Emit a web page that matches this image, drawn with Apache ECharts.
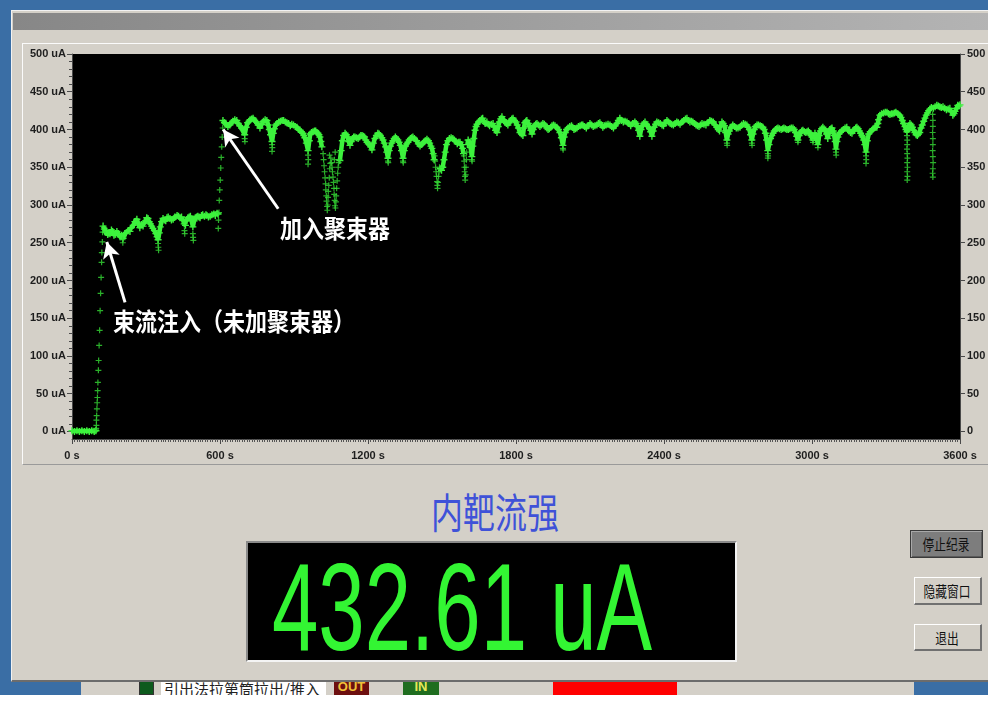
<!DOCTYPE html>
<html>
<head>
<meta charset="utf-8">
<script src="https://cdn.jsdelivr.net/npm/echarts@6/dist/echarts.min.js"></script>
<style>
  html, body { margin: 0; padding: 0; width: 988px; height: 707px; overflow: hidden; background: #fff; }
  #desk { position: absolute; left: 0; top: 0; width: 988px; height: 695px; background: #3a6ea5; }
  #under { position: absolute; left: 81px; top: 681px; width: 833px; height: 14px; background: #d4d0c8; overflow: hidden; }
  #under div { position: absolute; top: 0; height: 14px; box-sizing: border-box; overflow: hidden; }
  #win { position: absolute; left: 11px; top: 10px; width: 990px; height: 672px; background: #d4d0c8;
         border-top: 1px solid #f2f2f2; border-left: 1px solid #f2f2f2; border-bottom: 2px solid #6c6c6c; box-sizing: border-box; }
  #titlebar { position: absolute; left: 13px; top: 13px; width: 980px; height: 17px;
              background: linear-gradient(to right, #878787, #a2a2a2 60%, #b4b4b4); }
  #frame { position: absolute; left: 22px; top: 43px; width: 975px; height: 422px; box-sizing: border-box;
           border-top: 1px solid #fbfbfb; border-left: 1px solid #fbfbfb; border-bottom: 1px solid #9a9a9a; }
  #chart { position: absolute; left: 22px; top: 43px; width: 966px; height: 422px; }
  #heading { position: absolute; left: 345px; top: 490px; width: 300px; text-align: center;
             font: 41px/41px "Noto Sans CJK SC", sans-serif; color: #3f52d8; }
  #heading span { display: inline-block; transform: scaleX(0.78); }
  #readout { position: absolute; left: 246px; top: 541px; width: 491px; height: 121px; box-sizing: border-box;
             background: #000; border: 2px solid; border-color: #8a8a8a #f4f4f4 #f4f4f4 #8a8a8a; }
  #readoutText { position: absolute; left: 24px; top: 1px; white-space: nowrap; color: #33f533;
                 font: 125px/125px "Liberation Sans", Arial, sans-serif; transform: scaleX(0.667); transform-origin: 0 0; }
  .btn { position: absolute; box-sizing: border-box; text-align: center; color: #111;
         font: 15px "Noto Sans CJK SC", sans-serif; }
  .btn span { display: inline-block; transform: scaleX(0.78); }
  #btnStop { left: 910px; top: 530px; width: 73px; height: 28px; line-height: 25px; background: #7d7d7d;
             border: 1px solid #3a3a3a; box-shadow: inset 1px 1px 0 #a8a8a8, inset -1px -1px 0 #5a5a5a; }
  #btnHide, #btnQuit { left: 914px; width: 68px; height: 28px; line-height: 25px; background: #d4d0c8;
             border-top: 1px solid #fff; border-left: 1px solid #fff; border-right: 2px solid #707070; border-bottom: 2px solid #707070; }
  #btnHide { top: 577px; }
  #btnQuit { top: 624px; height: 27px; }
</style>
</head>
<body>
<div id="desk"></div>
<div id="under">
  <div style="left:58px;width:15px;background:#0d5a1d;border:1px solid #333;"></div>
  <div style="left:80px;width:165px;background:#fff;font:15px/15px 'Noto Sans CJK SC',sans-serif;color:#222;padding-left:3px;">引出法拉第筒拉出/推入</div>
  <div style="left:253px;width:35px;background:#6d0f0f;color:#f0c23a;font:bold 13px/12px 'Liberation Sans',sans-serif;text-align:center;">OUT</div>
  <div style="left:322px;width:36px;background:#1f6d1f;color:#e6e65a;font:bold 13px/12px 'Liberation Sans',sans-serif;text-align:center;">IN</div>
  <div style="left:472px;width:124px;background:#ff0000;"></div>
</div>
<div id="win"></div>
<div id="titlebar"></div>
<div id="frame"></div>
<div id="chart"></div>
<div id="heading"><span>内靶流强</span></div>
<div id="readout"><div id="readoutText"></div></div>
<div class="btn" id="btnStop"><span>停止纪录</span></div>
<div class="btn" id="btnHide"><span>隐藏窗口</span></div>
<div class="btn" id="btnQuit"><span>退出</span></div>

<script>
// Beam current log, [time in s, beam in uA]

const currentBeam = 432.61;

const yTickValues = [0, 50, 100, 150, 200, 250, 300, 350, 400, 450, 500];

// before injection
const beforeInjection = [[0,1],[10,0],[20,1],[30,0],[40,1],[50,0],[60,1],[70,0],[80,1],[90,0],[97,1]];

// injection, no buncher
const unbunchedRun = [[126,272],[131,268],[135,264],[140,266],[145,261],[150,263],[154,262],[160,267],[165,265],[170,260],[175,261],[182,265],[188,262],[195,258],[201,260],[207,256],[214,262],[220,263],[227,266],[235,265],[241,270],[248,273],[255,278],[263,281],[269,275],[275,270],[281,274],[288,272],[293,276],[298,279],[303,283],[308,282],[313,278],[318,275],[323,272],[328,269],[334,266],[340,262],[345,258],[349,254],[354,263],[358,271],[363,278],[369,282],[374,280],[380,279],[385,283],[390,284],[397,282],[403,280],[410,281],[417,284],[426,286],[432,285],[438,283],[444,284],[450,280],[455,275],[460,273],[465,280],[470,283],[475,284],[480,285],[485,279],[490,271],[495,279],[500,283],[505,284],[510,285],[515,284],[519,283],[525,286],[530,287],[537,285],[543,287],[547,286],[553,284],[560,285],[567,287],[575,288],[581,286],[588,289],[592,288]];

// buncher on
const bunchedRunA = [[612,412],[618,409],[625,407],[632,404],[640,406],[646,409],[652,411],[660,413],[668,412],[674,408],[680,405],[687,402],[693,400],[700,393],[706,403],[712,409],[718,411],[722,413],[728,414],[734,415],[741,412],[748,410],[755,406],[762,402],[769,407],[776,411],[783,413],[790,412],[795,406],[800,400],[805,393],[811,384],[816,395],[820,401],[826,406],[831,408],[838,410],[845,411],[852,412],[858,412],[865,410],[871,409],[878,408],[885,405],[891,407],[898,406],[905,404],[912,403],[918,400],[924,399],[930,397],[936,395],[940,392],[944,389],[950,382],[957,372],[962,385],[966,394],[971,396],[977,397],[983,398],[988,398],[993,396],[997,395],[1001,393],[1005,390],[1009,384],[1013,377]];

const bunchedRunB = [[1086,359],[1091,372],[1096,385],[1101,392],[1107,395],[1112,393],[1117,390],[1122,384],[1127,379],[1132,384],[1137,388],[1142,390],[1147,390],[1153,389],[1160,388],[1166,390],[1171,392],[1176,392],[1181,391],[1186,390],[1191,386],[1196,383],[1201,381],[1206,380],[1211,377],[1216,373],[1222,382],[1228,388],[1234,392],[1240,395],[1245,394],[1250,392],[1256,389],[1261,386],[1266,382],[1271,377],[1276,370],[1281,362],[1286,372],[1291,378],[1296,382],[1301,385],[1306,388],[1311,390],[1316,388],[1321,386],[1326,383],[1331,379],[1336,372],[1342,362],[1347,372],[1352,378],[1357,381],[1362,383],[1367,386],[1372,388],[1377,389],[1382,390],[1388,388],[1397,385],[1404,381],[1411,378],[1418,380],[1425,383],[1432,385],[1439,387],[1445,385],[1450,382],[1455,378],[1459,375],[1464,368],[1468,360]];

const bunchedRunC = [[1493,348],[1498,346],[1503,350],[1508,360],[1513,370],[1518,380],[1524,385],[1530,388],[1537,389],[1544,388],[1550,386],[1556,384],[1562,381],[1568,383],[1573,383],[1578,380],[1583,375],[1587,368]];

const bunchedRunD = [[1603,380],[1606,386],[1611,383],[1616,376],[1621,364],[1625,378],[1629,388],[1634,399],[1638,404],[1642,407],[1648,410],[1654,412],[1660,414],[1665,415],[1670,411],[1675,408],[1682,410],[1688,407],[1693,405],[1700,407],[1707,408],[1712,404],[1717,399],[1723,396],[1728,404],[1733,410],[1738,414],[1743,417],[1749,413],[1755,410],[1761,408],[1767,406],[1772,409],[1778,412],[1783,414],[1788,415],[1794,412],[1800,410],[1805,406],[1810,402],[1816,396],[1822,394],[1828,392],[1832,402],[1836,409],[1840,411],[1844,412],[1850,408],[1855,404],[1860,399],[1865,394],[1870,400],[1875,405],[1880,407],[1885,408],[1891,406],[1897,404],[1903,406],[1909,408],[1915,407],[1920,405],[1925,402],[1930,400],[1935,401],[1941,403],[1946,405],[1952,406],[1958,405],[1966,403],[1972,400],[1978,396],[1984,389],[1990,379],[1995,390],[2000,396],[2005,400],[2011,402],[2018,404],[2025,405],[2030,403],[2035,400],[2041,401],[2047,402],[2053,404],[2060,405],[2066,406],[2071,406],[2078,404],[2085,402],[2092,405],[2100,408],[2106,406],[2113,404],[2120,405],[2128,406],[2134,408],[2140,409],[2146,406],[2152,403],[2158,405],[2165,406],[2173,407],[2181,406],[2188,404],[2195,402],[2202,405],[2209,408],[2215,412],[2221,415],[2228,412],[2235,410],[2242,411],[2250,410],[2257,408],[2265,405],[2273,408],[2282,410],[2287,408],[2292,404],[2297,399],[2302,391],[2307,400],[2312,405],[2318,408],[2323,410],[2329,407],[2335,404],[2341,401],[2346,397],[2351,391],[2356,398],[2360,403],[2366,407],[2371,410],[2378,409],[2385,408],[2392,406],[2398,405],[2405,409],[2412,412],[2418,410],[2425,408],[2431,407],[2438,406],[2445,408],[2452,410],[2458,409],[2465,407],[2472,410],[2480,412],[2487,414],[2493,415],[2499,412],[2505,410],[2511,411],[2517,410],[2524,408],[2530,406],[2536,405],[2542,404],[2548,406],[2554,408],[2562,407],[2570,406],[2578,409],[2586,412],[2593,411],[2600,410],[2607,406],[2614,403],[2620,400],[2625,398],[2630,405],[2635,410],[2640,408],[2645,405],[2650,396],[2655,386],[2660,394],[2665,398],[2672,403],[2679,406],[2686,404],[2693,402],[2700,402],[2708,403],[2715,406],[2722,408],[2729,407],[2736,406],[2741,403],[2746,400],[2751,393],[2756,386],[2761,394],[2766,400],[2771,404],[2777,406],[2783,406],[2790,405],[2796,404],[2801,403],[2806,400],[2811,395],[2816,386],[2821,372],[2826,380],[2832,388],[2837,392],[2842,395],[2847,398],[2852,400],[2857,401],[2862,402],[2868,401],[2875,400],[2881,401],[2886,402],[2892,401],[2898,400],[2904,400],[2910,401],[2916,402],[2923,402],[2928,400],[2933,396],[2938,391],[2943,386],[2948,392],[2953,396],[2958,398],[2963,399],[2969,397],[2975,396],[2980,397],[2985,398],[2989,396],[2992,395],[2996,392],[3000,390],[3004,386],[3008,391],[3012,395],[3016,392],[3020,386],[3024,380],[3029,392],[3034,398],[3039,401],[3044,403],[3049,401],[3054,398],[3059,394],[3064,388],[3068,395],[3072,400],[3077,401],[3081,402],[3086,398],[3090,392],[3094,384],[3097,374],[3101,384],[3105,390],[3109,394],[3113,396],[3120,398],[3127,400],[3134,402],[3141,403],[3146,400],[3150,398],[3156,396],[3162,395],[3167,398],[3172,400],[3177,402],[3182,403],[3187,401],[3192,398],[3197,395],[3202,392],[3206,390],[3210,386],[3214,380],[3219,370],[3224,385],[3230,394],[3236,397],[3243,399],[3248,401],[3253,402],[3258,403],[3263,403],[3267,408],[3270,413],[3275,419],[3282,421],[3290,422],[3297,423],[3304,423],[3310,421],[3316,420],[3322,421],[3328,421],[3334,422],[3340,423],[3348,421],[3356,419],[3361,416],[3366,412],[3371,408],[3377,404],[3381,400],[3385,397],[3389,400],[3393,405],[3397,408],[3402,406],[3407,403],[3412,399],[3417,396],[3422,393],[3427,392],[3432,394],[3437,396],[3442,402],[3447,406],[3453,411],[3458,415],[3463,419],[3468,422],[3473,425],[3478,427],[3484,429],[3492,428],[3499,430],[3506,432],[3512,431],[3518,430],[3524,429],[3531,430],[3538,428],[3545,426],[3552,427],[3559,428],[3565,424],[3571,419],[3576,421],[3580,424],[3586,428],[3591,432],[3596,431],[3600,currentBeam]];

// isolated samples: ramps and dropouts
const injectionRamp = [[97,2],[98,4],[99,8],[99,15],[100,21],[101,30],[102,38],[103,45],[104,54],[105,65],[107,81],[108,94],[110,114],[112,134],[114,160],[116,183],[118,204],[120,224],[121,237],[123,251],[124,264]];
const buncherRamp = [[593,269],[594,280],[596,290],[597,306],[599,320],[601,333],[603,349],[605,363],[607,377],[609,390],[611,402]];
const dropouts = [[205,254],[206,250],[349,249],[350,244],[351,240],[456,266],[457,262],[490,262],[491,257],[492,253],
  [700,388],[701,384],[811,380],[812,376],[811,371],[957,366],[958,360],[957,354],
  [1018,368],[1020,360],[1022,352],[1024,344],[1026,336],[1028,328],[1029,320],[1031,312],[1032,305],[1034,298],[1035,293],[1037,300],[1038,310],[1039,318],[1041,326],[1043,336],[1044,366],[1045,348],[1047,355],[1049,362],[1052,356],[1054,350],[1056,344],[1058,337],[1060,330],[1062,322],[1063,314],[1064,360],[1065,306],[1066,299],[1067,370],[1068,296],[1070,304],[1071,312],[1073,322],[1075,332],[1077,342],[1079,350],[1081,356],[1083,360],
  [1281,358],[1282,356],[1342,358],[1343,356],
  [1470,365],[1472,358],[1474,350],[1476,344],[1478,338],[1480,331],[1481,326],[1482,322],[1484,330],[1486,338],[1488,344],[1490,350],
  [1589,365],[1590,358],[1591,350],[1592,344],[1593,338],[1594,333],[1596,340],[1597,350],[1599,360],[1600,370],
  [1621,360],[1622,358],[1990,375],[1991,373],[2655,382],[2656,379],[2756,382],[2757,379],
  [2821,368],[2822,365],[2821,362],[2943,383],[3004,383],[3024,376],[3097,370],[3098,366],
  [3219,365],[3220,360],[3219,355],
  [3385,392],[3386,386],[3386,380],[3385,374],[3386,368],[3387,362],[3386,356],[3387,350],[3386,344],[3387,338],[3386,333],
  [3489,420],[3490,412],[3490,404],[3489,396],[3490,388],[3490,380],[3489,372],[3490,364],[3491,356],[3490,348],[3489,342],[3490,337]];

// annotations: arrow tail -> tip, and text anchor (left, middle)
const noteBuncher = { text: '加入聚束器', tail: [836, 295], tip: [613, 400], anchor: [843, 269] };
const noteInjection = { text: '束流注入（未加聚束器）', tail: [215, 171], tip: [141, 251], anchor: [166, 146] };

const bandSegments = [beforeInjection, unbunchedRun, bunchedRunA, bunchedRunB, bunchedRunC, bunchedRunD];
const sparseSamples = injectionRamp.concat(buncherRamp, dropouts);

const yMinor = [];
for (let v = 0; v <= 500; v += 10) if (v % 50 !== 0) yMinor.push(v);

const plus = 'path://M2,0H3V2H5V3H3V5H2V3H0V2H2Z';
const green = '#3df23d';
const tickFont = {
  fontFamily: '"Liberation Sans",Arial,sans-serif',
  fontWeight: 'bold', fontSize: 11, color: '#1e1e1e'
};
const axisGrey = { color: '#4a4a4a', width: 1 };

const chart = echarts.init(document.getElementById('chart'), null, { renderer: 'canvas' });

const bandSeries = bandSegments.map(seg => ({
  type: 'line', data: seg, xAxisIndex: 0, yAxisIndex: 0,
  symbol: plus, symbolSize: 7, showSymbol: true, showAllSymbol: true,
  lineStyle: { color: green, width: 4.5 }, itemStyle: { color: green },
  silent: true, z: 3
}));

const arrowLines = [noteBuncher, noteInjection].map(n => [{ coord: n.tail }, { coord: n.tip }]);

chart.setOption({
  animation: false,
  grid: { left: 50, right: 28, top: 11, height: 385, show: true, backgroundColor: '#000', borderWidth: 0,
          containLabel: false, outerBoundsMode: 'none' },
  xAxis: {
    type: 'value', min: 0, max: 3600, interval: 600,
    axisLine: { show: true, onZero: false, lineStyle: axisGrey },
    axisTick: { show: true, length: 5, lineStyle: axisGrey },
    minorTick: { show: true, splitNumber: 60, length: 3, lineStyle: { color: '#555' } },
    splitLine: { show: false }, minorSplitLine: { show: false },
    axisLabel: Object.assign({ margin: 11, formatter: v => v + ' s' }, tickFont)
  },
  yAxis: [
    {
      type: 'value', position: 'left', min: -10, max: 500,
      axisLine: { show: true, onZero: false, lineStyle: axisGrey },
      axisTick: { show: true, length: 5, customValues: yTickValues, lineStyle: axisGrey },
      axisLabel: Object.assign({ customValues: yTickValues, margin: 6, formatter: v => v + ' uA' }, tickFont),
      splitLine: { show: false },
      name: 'Beam [uA]', nameLocation: 'middle', nameGap: 42, nameRotate: 90,
      nameTextStyle: { fontFamily: '"Liberation Sans",Arial,sans-serif', fontWeight: 'bold', fontSize: 10, color: '#1e1e1e' }
    },
    {
      type: 'value', position: 'right', min: -10, max: 500,
      axisLine: { show: true, onZero: false, lineStyle: axisGrey },
      axisTick: { show: true, length: 5, customValues: yTickValues, lineStyle: axisGrey },
      axisLabel: Object.assign({ customValues: yTickValues, margin: 7, formatter: v => String(v) }, tickFont),
      splitLine: { show: false }
    },
    {
      type: 'value', position: 'left', min: -10, max: 500,
      axisLine: { show: false, onZero: false },
      axisTick: { show: true, length: 3, customValues: yMinor, lineStyle: axisGrey },
      axisLabel: { show: false },
      splitLine: { show: false }
    }
  ],
  series: bandSeries.concat([{
    type: 'scatter', data: sparseSamples, xAxisIndex: 0, yAxisIndex: 0,
    symbol: plus, symbolSize: 6, itemStyle: { color: '#36dc36' }, silent: true, z: 4,
    markLine: {
      silent: true, symbol: ['none', 'arrow'], symbolSize: [13, 16],
      lineStyle: { color: '#ffffff', width: 3, type: 'solid' },
      label: { show: false }, emphasis: { disabled: true },
      data: arrowLines
    }
  }])
});

function noteGraphic(n) {
  const p = chart.convertToPixel({ gridIndex: 0 }, n.anchor);
  return {
    type: 'text', x: p[0], y: p[1], scaleX: 0.88, silent: true, z: 10,
    style: { text: n.text, fill: '#ffffff', font: 'bold 25px "Noto Sans CJK SC", sans-serif', align: 'left', verticalAlign: 'middle' }
  };
}
chart.setOption({ graphic: [noteGraphic(noteBuncher), noteGraphic(noteInjection)] });

document.getElementById('readoutText').textContent = currentBeam.toFixed(2) + ' uA';
</script>
</body>
</html>
